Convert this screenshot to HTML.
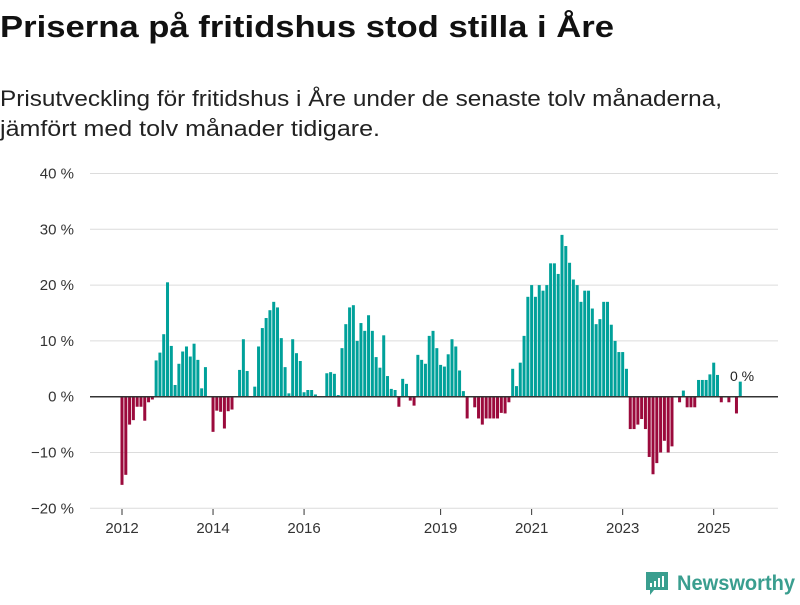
<!DOCTYPE html>
<html><head><meta charset="utf-8"><style>
body{margin:0;background:#fff;width:800px;height:600px;overflow:hidden;font-family:"Liberation Sans","DejaVu Sans",sans-serif;}
</style></head><body>
<svg width="800" height="600" xmlns="http://www.w3.org/2000/svg">
<text x="0" y="37" font-size="31" font-weight="bold" fill="#111" textLength="614" lengthAdjust="spacingAndGlyphs">Priserna på fritidshus stod stilla i Åre</text>
<text x="0" y="106" font-size="22" fill="#222" textLength="722" lengthAdjust="spacingAndGlyphs">Prisutveckling för fritidshus i Åre under de senaste tolv månaderna,</text>
<text x="0" y="136" font-size="22" fill="#222" textLength="380" lengthAdjust="spacingAndGlyphs">jämfört med tolv månader tidigare.</text>
<g id="grid"></g><g id="bars"></g><g id="xl"></g>
<text x="730" y="381" font-size="14" fill="#222">0 %</text>
<g>
<path d="M646,572 h22 v18 h-14 l-4,5 v-5 h-4 z" fill="#3a9e8f"/>
<rect x="650" y="583" width="2" height="4" fill="#fff"/><rect x="654" y="581" width="2" height="6" fill="#fff"/><rect x="658" y="578" width="2" height="9" fill="#fff"/><rect x="662" y="576" width="2" height="11" fill="#fff"/>
<text x="677" y="590" font-size="21" font-weight="bold" fill="#3a9e8f" textLength="118" lengthAdjust="spacingAndGlyphs">Newsworthy</text>
</g>
</svg>
<script>
const values=[-15.8,-14,-5,-4.2,-1.8,-1.8,-4.3,-1,-0.5,6.5,7.9,11.2,
20.5,9.1,2.1,5.9,8.1,9,7.2,9.5,6.6,1.5,5.3,0,
-6.3,-2.5,-2.7,-5.7,-2.6,-2.3,0,4.8,10.3,4.6,0,1.8,
9,12.3,14.1,15.5,17,16,10.5,5.3,0.6,10.3,7.8,6.4,
0.8,1.2,1.2,0.4,0,0,4.2,4.4,4.1,0.3,8.7,13,
16,16.4,10,13.2,11.8,14.6,11.8,7.1,5.2,11,3.7,1.4,
1.2,-1.8,3.2,2.3,-0.7,-1.6,7.5,6.6,5.9,10.9,11.8,8.7,
5.7,5.4,7.6,10.3,9,4.7,1,-3.9,0,-1.9,-3.9,-5,
-3.9,-3.9,-3.9,-3.9,-2.9,-3,-1,5,1.9,6.1,10.9,17.9,
20,17.9,20,19,20,23.9,23.9,22,29,27,24,21,
20,17,19,19,15.8,13,13.9,17,17,12.9,10,8,
8,5,-5.8,-5.8,-5,-4,-5.8,-10.8,-13.9,-11.9,-10,-7.9,
-10,-8.9,0,-1,1.1,-1.9,-1.9,-1.9,3,3,3,4,
6.1,3.9,-1,0,-1,0,-3,2.7];
const yTicks=[40,30,20,10,0,-10,-20];
const yTickLabels=["40 %","30 %","20 %","10 %","0 %","−10 %","−20 %"];
const xTickYears=[2012,2014,2016,2019,2021,2023,2025];
const startYear=2012;
const NS="http://www.w3.org/2000/svg";
function y(v){return 396.7-v*5.58;}
function x(i){return 122+i*3.793;}
function mk(t,a,p){const e=document.createElementNS(NS,t);for(const k in a)e.setAttribute(k,a[k]);p.appendChild(e);return e;}
const g=document.getElementById('grid');
yTicks.forEach((t,k)=>{
  if(t!==0){const l=mk('line',{x1:90,x2:778,y1:y(t),y2:y(t),stroke:'#dcdcdc','stroke-width':1},g);
  
  }
  const tx=mk('text',{x:74,y:y(t)+5,'text-anchor':'end','font-size':15,fill:'#333'},g);
  tx.textContent=yTickLabels[k];
  
  
});
const b=document.getElementById('bars');
values.forEach((v,i)=>{
  const r=mk('rect',{x:x(i)-1.5,width:3,y:Math.min(y(v),y(0)),height:Math.abs(y(v)-y(0)),fill:v>=0?'#00a19a':'#9b0a3c'},b);
  
  
});
const z=mk('line',{x1:90,x2:778,y1:y(0),y2:y(0),stroke:'#333','stroke-width':1.5},b);


const xl=document.getElementById('xl');
xTickYears.forEach(yr=>{
  const i=(yr-startYear)*12, xx=x(i);
  const t=mk('line',{x1:xx,x2:xx,y1:509,y2:515,stroke:'#333','stroke-width':1},xl);
  
  
  const tx=mk('text',{x:xx,y:533,'text-anchor':'middle','font-size':15,fill:'#333'},xl);
  tx.textContent=yr;
  
  
});
</script>
</body></html>
